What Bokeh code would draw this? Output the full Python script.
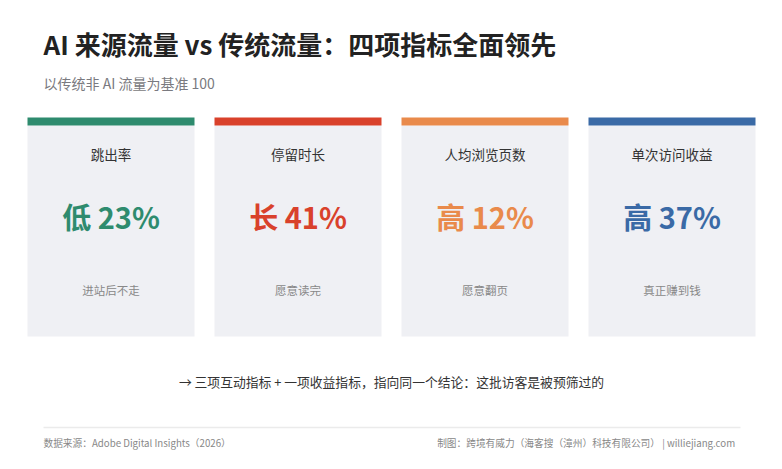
from bokeh.plotting import figure
from bokeh.models import ColumnDataSource, Label, Range1d
from bokeh.core.properties import value
from bokeh.embed import file_html
from bokeh.resources import INLINE

# ---- data ----
title_text = "AI 来源流量 vs 传统流量：四项指标全面领先"
subtitle_text = "以传统非 AI 流量为基准 100"
metrics = ["跳出率", "停留时长", "人均浏览页数", "单次访问收益"]
directions = ["低", "长", "高", "高"]
percents = [23, 41, 12, 37]
notes = ["进站后不走", "愿意读完", "愿意翻页", "真正赚到钱"]
colors = ["#2E8B6E", "#D9412B", "#E98A4B", "#3A6AA6"]
conclusion = "→ 三项互动指标 + 一项收益指标，指向同一个结论：这批访客是被预筛过的"
source_text = "数据来源：Adobe Digital Insights（2026）"
credit_text = "制图：跨境有威力（海客搜（漳州）科技有限公司）  |  williejiang.com"

FONT = "Noto Sans CJK SC"
W, H = 766, 453

p = figure(width=W, height=H, output_backend="svg", toolbar_location=None,
           x_range=Range1d(0, W), y_range=Range1d(H, 0),
           x_axis_type=None, y_axis_type=None, min_border=0,
           outline_line_color=None, background_fill_color="white",
           border_fill_color="white")
p.grid.visible = False

# layout of cards
card_left, card_w, card_gap = 27, 167, 20
centers = [card_left + card_w / 2 + i * (card_w + card_gap) for i in range(len(metrics))]

src = ColumnDataSource(dict(
    x=centers,
    metric=metrics,
    big=[f"{d} {v}%" for d, v in zip(directions, percents)],
    note=notes,
    color=colors,
))

# card background
p.vbar(x="x", width=card_w, top=125, bottom=336, source=src,
       fill_color="#EFF0F4", line_color=None)
# top color bar
p.vbar(x="x", width=card_w, top=117, bottom=125, source=src,
       fill_color="color", line_color=None)

p.text(x="x", y=153, text="metric", source=src, text_align="center",
       text_baseline="middle", text_font=value(FONT), text_font_size="13.5px",
       text_color="#333333")
p.text(x="x", y=215, text="big", source=src, text_align="center",
       text_baseline="middle", text_font=value(FONT), text_font_size="29px",
       text_font_style="bold", text_color="color")
p.text(x="x", y=289, text="note", source=src, text_align="center",
       text_baseline="middle", text_font=value(FONT), text_font_size="11.5px",
       text_color="#888888")

# titles
p.add_layout(Label(x=43, y=43, text=title_text, text_font=FONT,
                   text_font_size="26px", text_font_style="bold",
                   text_color="#222222", text_baseline="middle"))
p.add_layout(Label(x=43, y=82, text=subtitle_text, text_font=FONT,
                   text_font_size="14px", text_color="#7A7A80",
                   text_baseline="middle"))

# conclusion
p.add_layout(Label(x=391, y=381, text=conclusion, text_font=FONT,
                   text_font_size="12.8px", text_color="#333333",
                   text_align="center", text_baseline="middle"))

# separator
p.segment(x0=[43], y0=[427], x1=[740], y1=[427], line_color="#EBEBEB", line_width=1.5)

# footer
p.add_layout(Label(x=43, y=442, text=source_text, text_font=FONT,
                   text_font_size="9.7px", text_color="#888888",
                   text_baseline="middle"))
p.add_layout(Label(x=739, y=442, text=credit_text, text_font=FONT,
                   text_font_size="9.7px", text_color="#888888",
                   text_align="right", text_baseline="middle"))

open("out.html", "w").write(file_html(p, INLINE))
